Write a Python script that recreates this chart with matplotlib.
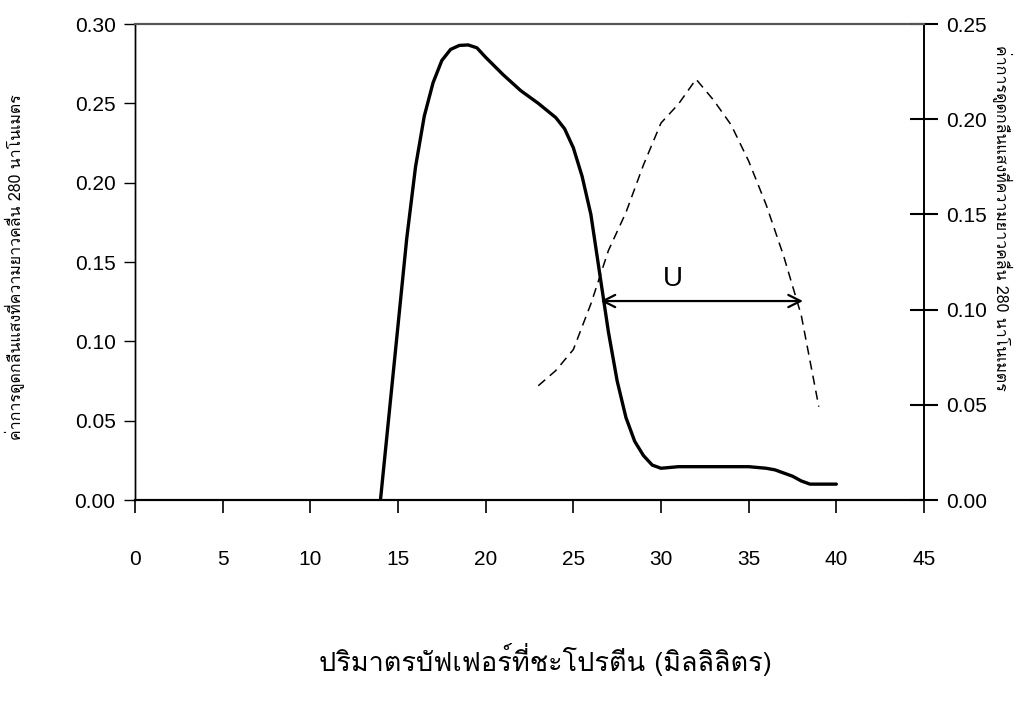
import matplotlib
matplotlib.use("Agg")
import matplotlib.pyplot as plt
from matplotlib import font_manager, ft2font

# protein elution profile (solid, left axis)
volume = [14, 15, 15.5, 16, 16.5, 17, 17.5, 18, 18.5, 19, 19.5, 20, 21, 22,
          23, 24, 24.5, 25, 25.5, 26, 26.5, 27, 27.5, 28, 28.5, 29, 29.5,
          30, 31, 32, 33, 34, 35, 36, 36.5, 37, 37.5, 38, 38.5, 39, 40]
absorbance = [0.000, 0.110, 0.165, 0.210, 0.242, 0.263, 0.277, 0.284, 0.2865,
              0.2868, 0.285, 0.279, 0.268, 0.258, 0.250, 0.241, 0.234, 0.222,
              0.204, 0.180, 0.143, 0.106, 0.075, 0.052, 0.037, 0.028, 0.022,
              0.020, 0.021, 0.021, 0.021, 0.021, 0.021, 0.020, 0.019, 0.017,
              0.015, 0.012, 0.010, 0.010, 0.010]

# second profile (dashed, right axis)
volume2 = [23, 24, 25, 26, 27, 28, 29, 30, 31, 32, 33, 34, 35, 36, 37, 38, 39]
absorbance2 = [0.060, 0.068, 0.079, 0.103, 0.131, 0.151, 0.176, 0.198, 0.208,
               0.221, 0.210, 0.197, 0.178, 0.155, 0.128, 0.097, 0.049]

# span marked "U"
u_start, u_end, u_level = 26.55, 38.1, 0.1254

x_ticks = list(range(0, 46, 5))
left_ticks = [0.00, 0.05, 0.10, 0.15, 0.20, 0.25, 0.30]
right_ticks = [0.00, 0.05, 0.10, 0.15, 0.20, 0.25]

y_label = "ค่าการดูดกลืนแสงที่ความยาวคลื่น 280 นาโนเมตร"
x_label = "ปริมาตรบัฟเฟอร์ที่ชะโปรตีน (มิลลิลิตร)"


def _thai_family():
    for f in font_manager.fontManager.ttflist:
        try:
            if 0x0E01 in ft2font.FT2Font(f.fname).get_charmap():
                return f.name
        except Exception:
            pass
    return "DejaVu Sans"


THAI = [_thai_family(), "DejaVu Sans"]
plt.rcParams["font.family"] = ["Liberation Sans", "DejaVu Sans"]

fig = plt.figure(figsize=(10.27, 7.04), dpi=100)
ax = fig.add_axes([135 / 1027, 204 / 704, 789 / 1027, 476 / 704])
ax2 = ax.twinx()

ax.plot(volume, absorbance, color="black", lw=2.4,
        solid_joinstyle="round", solid_capstyle="round")
ax2.plot(volume2, absorbance2, color="black", lw=1.1, dashes=(6, 4))

ax.annotate("", xy=(u_start, u_level), xytext=(u_end, u_level),
            arrowprops=dict(arrowstyle="<->", color="black", lw=1.6,
                            mutation_scale=22, shrinkA=0, shrinkB=0))
ax.text(30.7, u_level + 0.006, "U", fontsize=20, ha="center", va="bottom")

ax.set_xlim(0, 45)
ax.set_ylim(0, 0.30)
ax2.set_ylim(0, 0.25)
ax.set_xticks(x_ticks)
ax.set_yticks(left_ticks)
ax2.set_yticks(right_ticks)
ax.set_yticklabels([f"{v:.2f}" for v in left_ticks])
ax2.set_yticklabels([f"{v:.2f}" for v in right_ticks])

ax.tick_params(axis="x", direction="out", length=9, width=1.2, pad=27,
               labelsize=15)
ax.tick_params(axis="y", direction="out", length=8, width=1, pad=6,
               labelsize=15)
ax2.tick_params(axis="y", direction="inout", length=20, width=1.5, pad=6,
                labelsize=15)

for a in (ax, ax2):
    a.spines["left"].set_linewidth(1.0)
    a.spines["bottom"].set_linewidth(1.5)
    a.spines["right"].set_linewidth(1.2)
    a.spines["top"].set_linewidth(1.5)
    a.spines["top"].set_color("#555555")

fig.text(15 / 1027, 1 - 267 / 704, y_label, rotation=90, ha="center",
         va="center", fontsize=11.5, family=THAI)
fig.text(1002 / 1027, 1 - 218 / 704, y_label, rotation=270, ha="center",
         va="center", fontsize=11.5, family=THAI)
fig.text(545 / 1027, 1 - 660 / 704, x_label, ha="center", va="center",
         fontsize=19.5, family=THAI)

fig.savefig("out.png", dpi=100)
